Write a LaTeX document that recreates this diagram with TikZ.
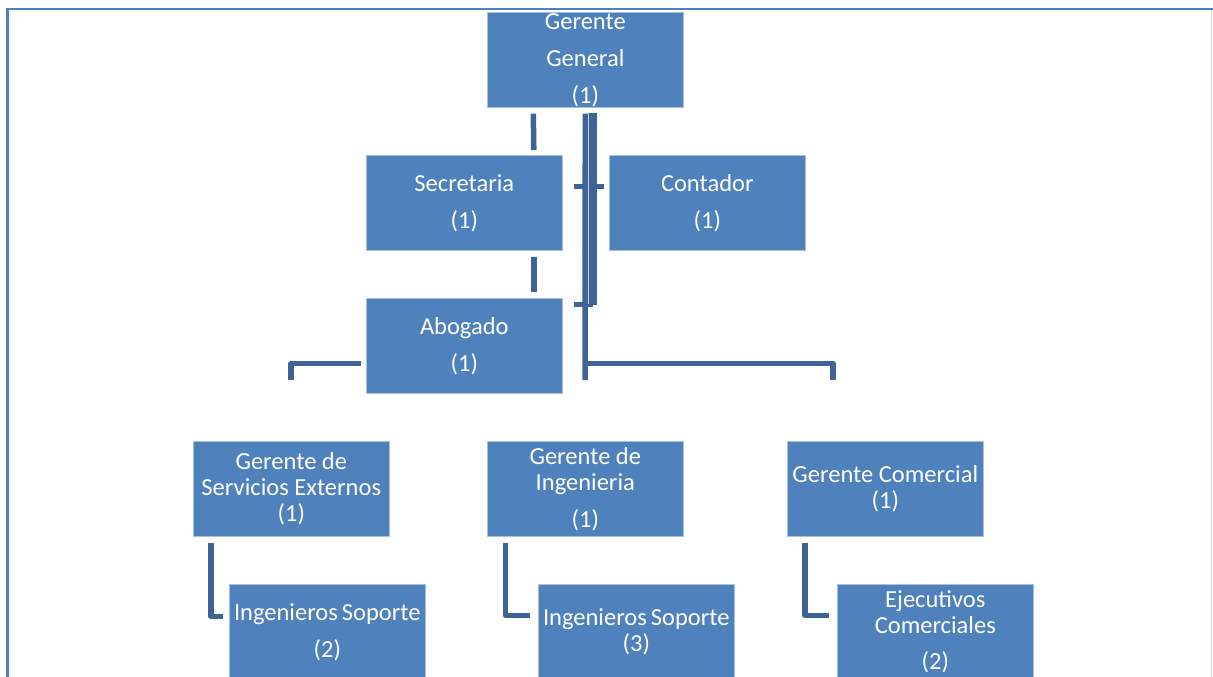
\documentclass[tikz,border=0pt]{standalone}
\usepackage{fontspec}
\setmainfont{Carlito}
\definecolor{boxblue}{HTML}{4F81BD}
\definecolor{boxedge}{HTML}{A9C1E0}
\definecolor{linkblue}{HTML}{3E6497}
\definecolor{framelight}{HTML}{C6D9F1}

\begin{document}
\begin{tikzpicture}[x=1pt,y=-1pt,
  unit/.style={anchor=north west, fill=boxblue, draw=boxedge, line width=0.6pt,
    minimum width=196pt, minimum height=95pt, inner sep=0pt, text=white,
    align=center, font=\fontsize{24.5}{26}\selectfont},
  link/.style={draw=linkblue, line width=5.5pt, line join=round},
  thicklink/.style={draw=linkblue, line width=8pt},
  frameline/.style={draw=boxblue, line width=2.5pt},
]
\useasboundingbox (0,0) rectangle (1213,677);
\clip (0,0) rectangle (1213,677);

% page frame
\coordinate (fTL) at (7.5,9);
\coordinate (fTR) at (1213,9);
\coordinate (fBL) at (7.5,677);
\draw[frameline] (fBL) -- (fTL) -- (fTR);
\draw[draw=framelight, line width=1.5pt] (1211.5,10) -- (1211.5,677);

% connector end points
\coordinate (trunkEnd) at (585,380);
\coordinate (barL) at (291,363.5);
\coordinate (barR) at (833,363.5);
\coordinate (barGapL) at (361,363.5);
\coordinate (dropL) at (291,380);
\coordinate (dropR) at (833,380);
\coordinate (asstTop) at (593,113);
\coordinate (asstBot) at (593,304.5);
\coordinate (tickA1) at (574,186.5);
\coordinate (tickA2) at (604,186.5);
\coordinate (tickB1) at (574,304.5);

% boxes
\node[unit] (gg)  at (487,12)  {Gerente\\[11pt]General\\[11pt](1)};
\node[unit] (sec) at (366,155) {Secretaria\\[11pt](1)};
\node[unit] (con) at (609,155) {Contador\\[11pt](1)};
\node[unit] (abo) at (366,298) {Abogado\\[11pt](1)};
\node[unit] (gse) at (193,441) {Gerente de\\Servicios Externos\\(1)};
\node[unit] (gin) at (487,441) {Gerente de\\Ingenieria\\[11pt](1)};
\node[unit] (gco) at (787,441) {Gerente Comercial\\(1)};
\node[unit] (is2) at (229,584) {Ingenieros\hspace{-1.5pt} Soporte\\[11pt](2)};
\node[unit] (is3) at (538,584) {Ingenieros\hspace{-1.5pt} Soporte\\(3)};
\node[unit] (eje) at (837,584) {Ejecutivos\\Comerciales\\[10pt](2)};

% assistant line beside the trunk
\draw[thicklink] (asstTop) -- (asstBot);
\draw[link] (tickA1) -- (tickA2);
\draw[link] (tickB1) -- (asstBot);

% main trunk and branch bar
\draw[link] ([yshift=-6pt]gg.south) -- (trunkEnd);
\draw[white!70!linkblue, line width=0.6pt] (588.5,113) -- (588.5,304);
\draw[link] (585,363.5) -- (barR) -- (dropR);
\draw[link] (barGapL) -- (barL) -- (dropL);

% short segments above and below the secretary
\draw[link] ([xshift=-52pt,yshift=-6pt]gg.south) -- ([xshift=69.5pt,yshift=5pt]sec.north);
\draw[link] ([xshift=69.5pt,yshift=-6pt]sec.south) -- ([xshift=69.5pt,yshift=6pt]abo.north);

% elbows to the lower boxes
\draw[link] ([xshift=-80.5pt,yshift=-6pt]gse.south) |- ([xshift=-6pt,yshift=15.5pt]is2.west);
\draw[link] ([xshift=-80pt,yshift=-6pt]gin.south) |- ([xshift=-8pt,yshift=16.5pt]is3.west);
\draw[link] ([xshift=-80.5pt,yshift=-6pt]gco.south) |- ([xshift=-8pt,yshift=16.5pt]eje.west);
\end{tikzpicture}
\end{document}
